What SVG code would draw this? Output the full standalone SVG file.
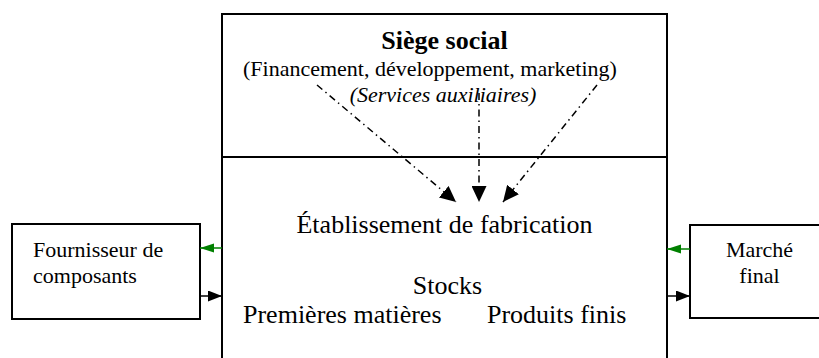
<svg xmlns="http://www.w3.org/2000/svg" width="819" height="358" viewBox="0 0 819 358">
  <style>
    .box { fill: #ffffff; stroke: #000000; stroke-width: 2; }
    .txt { font-family: "Liberation Serif", "Times New Roman", serif; fill: #000000; }
    .t22 { font-size: 22px; }
    .t26 { font-size: 26px; }
    .flow { fill: none; stroke: #000000; stroke-width: 1.5; stroke-dasharray: 7 4 1.5 4; }
    .goods { fill: none; stroke: #000000; stroke-width: 1.5; }
    .orders { fill: none; stroke: #008000; stroke-width: 1.5; }
  </style>
  <defs>
    <marker id="headBig" markerUnits="userSpaceOnUse" markerWidth="17" markerHeight="15" refX="16" refY="7.5" orient="auto">
      <path d="M0,0 L16,7.5 L0,15 z" fill="#000000"/>
    </marker>
    <marker id="headBlack" markerUnits="userSpaceOnUse" markerWidth="15" markerHeight="11" refX="14" refY="5.5" orient="auto">
      <path d="M0,0 L14,5.5 L0,11 z" fill="#000000"/>
    </marker>
    <marker id="headGreen" markerUnits="userSpaceOnUse" markerWidth="15" markerHeight="11" refX="14" refY="5.5" orient="auto">
      <path d="M0,1 L14,5.5 L0,10 z" fill="#008000"/>
    </marker>
  </defs>

  <!-- Head office + manufacturing plant -->
  <g id="entreprise">
    <rect class="box" x="222" y="14" width="445" height="360"/>
    <line x1="222" y1="157" x2="667" y2="157" stroke="#000000" stroke-width="2"/>
  </g>

  <g id="siege">
    <text class="txt t26" x="444.5" y="49" text-anchor="middle" font-weight="bold">Siège social</text>
    <text class="txt t22" x="243" y="76">(Financement, développement, marketing)</text>
    <text class="txt t22" x="443" y="102" text-anchor="middle" font-style="italic">(Services auxiliaires)</text>
  </g>

  <g id="fabrication">
    <text class="txt t26" x="444.5" y="233" text-anchor="middle">Établissement de fabrication</text>
    <text class="txt t26" x="447.5" y="294" text-anchor="middle">Stocks</text>
    <text class="txt t26" x="243" y="323">Premières matières</text>
    <text class="txt t26" x="487" y="323">Produits finis</text>
  </g>

  <g id="fournisseur">
    <rect class="box" x="12" y="224" width="188" height="95"/>
    <text class="txt t22" x="33" y="257">Fournisseur de</text>
    <text class="txt t22" x="33" y="283">composants</text>
  </g>

  <g id="marche">
    <rect class="box" x="690" y="225" width="140" height="93"/>
    <text class="txt t22" x="759.5" y="257" text-anchor="middle">Marché</text>
    <text class="txt t22" x="759.5" y="283" text-anchor="middle">final</text>
  </g>

  <g id="connecteurs">
    <!-- head office services into the plant -->
    <line class="flow" x1="317" y1="85" x2="456" y2="202" marker-end="url(#headBig)"/>
    <line class="flow" x1="479" y1="93" x2="479" y2="202" marker-end="url(#headBig)"/>
    <line class="flow" x1="597" y1="85" x2="503" y2="202" marker-end="url(#headBig)"/>
    <!-- supplier side -->
    <line class="orders" x1="222" y1="248" x2="200" y2="248" marker-end="url(#headGreen)"/>
    <line class="goods" x1="200" y1="296" x2="222" y2="296" marker-end="url(#headBlack)"/>
    <!-- market side -->
    <line class="orders" x1="690" y1="249" x2="667" y2="249" marker-end="url(#headGreen)"/>
    <line class="goods" x1="667" y1="296" x2="690" y2="296" marker-end="url(#headBlack)"/>
  </g>
</svg>
